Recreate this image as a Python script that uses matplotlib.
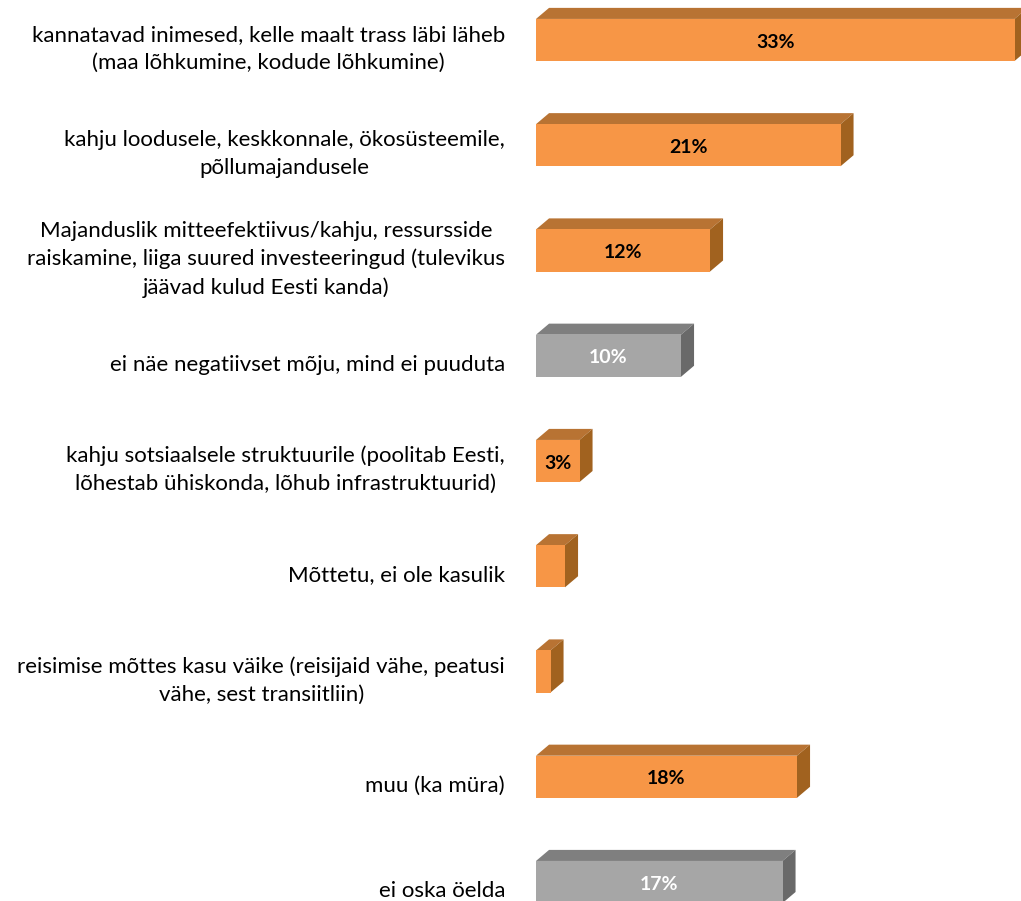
import matplotlib.pyplot as plt
from matplotlib.patches import Polygon

# andmed
labels = [
    "kannatavad inimesed, kelle maalt trass läbi läheb\n(maa lõhkumine, kodude lõhkumine)",
    "kahju loodusele, keskkonnale, ökosüsteemile,\npõllumajandusele",
    "Majanduslik mitteefektiivus/kahju, ressursside\nraiskamine, liiga suured investeeringud (tulevikus\njäävad kulud Eesti kanda)",
    "ei näe negatiivset mõju, mind ei puuduta",
    "kahju sotsiaalsele struktuurile (poolitab Eesti,\nlõhestab ühiskonda, lõhub infrastruktuurid)",
    "Mõttetu, ei ole kasulik",
    "reisimise mõttes kasu väike (reisijaid vähe, peatusi\nvähe, sest transiitliin)",
    "muu (ka müra)",
    "ei oska öelda",
]
values = [33, 21, 12, 10, 3, 2, 1, 18, 17]
value_labels = ["33%", "21%", "12%", "10%", "3%", "", "", "18%", "17%"]
is_gray = [False, False, False, True, False, False, False, False, True]

orange = ("#F79646", "#B87333", "#A1621F")
gray = ("#A6A6A6", "#7F7F7F", "#696969")

plt.rcParams['font.family'] = ['Lato', 'DejaVu Sans']

fig = plt.figure(figsize=(10.21, 9.01), dpi=100)
ax = fig.add_axes([536 / 1021, 0, 1 - 536 / 1021, 1])
ax.set_xlim(0, 485 / 14.5)
ax.set_ylim(8 + 19 / 105.3, -40 / 105.3)
ax.axis('off')

h = 0.4      # bar thickness
dx = 0.9     # depth in x (percent units)
dy = 0.105   # depth in y (category units)

for i, (v, g) in enumerate(zip(values, is_gray)):
    front, top, side = gray if g else orange
    ax.barh(i, v, height=h, color=front, edgecolor='none', zorder=2)
    y0 = i - h / 2
    y1 = i + h / 2
    ax.add_patch(Polygon([(0, y0), (v, y0), (v + dx, y0 - dy), (dx, y0 - dy)],
                         closed=True, facecolor=top, edgecolor='none',
                         clip_on=False, zorder=1))
    ax.add_patch(Polygon([(v, y0), (v + dx, y0 - dy), (v + dx, y1 - dy), (v, y1)],
                         closed=True, facecolor=side, edgecolor='none',
                         clip_on=False, zorder=1))
    if value_labels[i]:
        ax.text(v / 2, i + 0.02, value_labels[i], ha='center', va='center',
                fontsize=14, fontweight='bold',
                color='white' if g else 'black', zorder=3)

for i, lab in enumerate(labels):
    ax.text(-31 / 485, i + 0.085, lab, transform=ax.get_yaxis_transform(),
            ha='right', va='center', multialignment='center',
            fontsize=16, linespacing=1.5, color='black')

fig.savefig('out.png', dpi=100)
